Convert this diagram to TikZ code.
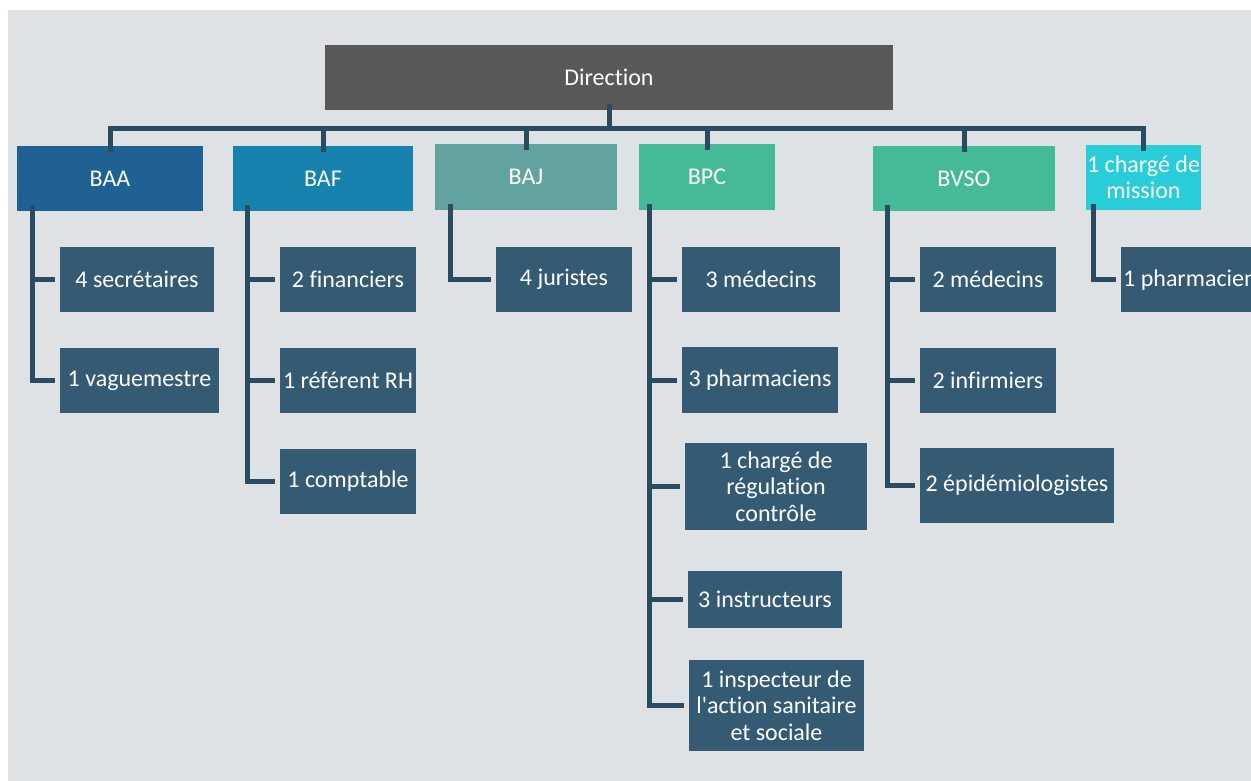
\documentclass[tikz,border=0pt]{standalone}
\usepackage{fontspec}
\setmainfont{Carlito}[Ligatures={NoCommon,NoContextual}]
\definecolor{bg}{HTML}{DFE2E5}
\definecolor{cdir}{HTML}{595959}
\definecolor{cbaa}{HTML}{1E6192}
\definecolor{cbaf}{HTML}{1682AD}
\definecolor{cbaj}{HTML}{63A39F}
\definecolor{cbpc}{HTML}{44BA97}
\definecolor{ccm}{HTML}{29CCD9}
\definecolor{cchild}{HTML}{345A74}
\definecolor{cline}{HTML}{2A4B60}
\tikzset{
  box/.style={fill=#1, text=white, inner sep=0pt, align=center, font=\fontsize{24}{26.5}\selectfont},
  conn/.style={draw=cline, line width=5pt, line join=miter},
  childconn/.style={conn, shorten >=5pt},
}
\newcommand{\bx}[6]{% style color, name, x1, y1, x2, y2
  \node[box=#1, minimum width={#5-#3}, minimum height={#6-#4}] (#2) at ({(#3+#5)/2},{(#4+#6)/2})}
\begin{document}
\begin{tikzpicture}[x=1pt,y=-1pt]
\useasboundingbox (0,0) rectangle (1251,780);
\clip (0,0) rectangle (1251,780);
\fill[bg] (8,10) rectangle (1260,790);
% top
\bx{cdir}{dir}{325}{45}{893}{110} {Direction};
\bx{cbaa}{baa}{17}{146}{203}{211} {BAA};
\bx{cbaf}{baf}{233}{146}{413}{211} {BAF};
\bx{cbaj}{baj}{435}{144}{617}{210} {BAJ};
\bx{cbpc}{bpc}{639}{144}{775}{210} {BPC};
\bx{cbpc}{bvso}{873}{146}{1055}{211} {BVSO};
\bx{ccm}{cm}{1086}{145}{1201}{210} {1 chargé de\\mission};
% children
\bx{cchild}{sec}{60}{247}{214}{312} {4 secrétaires};
\bx{cchild}{vag}{60}{348}{219}{413} {1 vaguemestre};
\bx{cchild}{fin}{280}{247}{416}{312} {2 financiers};
\bx{cchild}{rh}{280}{348}{416}{413} {1 référent RH};
\bx{cchild}{comp}{280}{449}{416}{514} {1 comptable};
\bx{cchild}{jur}{496}{247}{632}{312} {4 juristes};
\bx{cchild}{med}{682}{247}{840}{312} {3 médecins};
\bx{cchild}{pha}{682}{347}{838}{413} {3 pharmaciens};
\bx{cchild}{reg}{685}{443}{867}{530} {1 chargé de\\régulation\\contrôle};
\bx{cchild}{ins}{688}{571}{842}{628} {3 instructeurs};
\bx{cchild}{insp}{689}{660}{864}{751} {1 inspecteur de\\l\textquotesingle action sanitaire\\et sociale};
\bx{cchild}{vmed}{920}{247}{1056}{312} {2 médecins};
\bx{cchild}{inf}{920}{348}{1056}{413} {2 infirmiers};
\bx{cchild}{epi}{920}{448}{1114}{523} {2 épidémiologistes};
\node[box=cchild, minimum width=160, minimum height=65, anchor=north west] (phm) at (1121,247) {};
\node[font=\fontsize{24}{26.5}\selectfont, text=white, anchor=west, inner sep=0pt] (phmt) at ([xshift=2pt]phm.west) {1 pharmacien};
% bus
\coordinate (bus) at (609,128);
\draw[conn] ([yshift=6pt]dir.south) -- (bus);
\foreach \n in {baa,baf,baj,bpc,bvso,cm}
  \draw[conn] (bus) -| ([yshift=-6pt]\n.north);
% child connectors
\foreach \p/\dx/\c in {baa/16/sec, baa/16/vag, baf/15/fin, baf/15/rh, baf/15/comp, baj/16/jur,
  bpc/11/med, bpc/11/pha, bpc/11/reg, bpc/11/ins, bpc/11/insp,
  bvso/15/vmed, bvso/15/inf, bvso/15/epi, cm/8/phm}
  \draw[childconn] ([xshift=\dx pt, yshift=6pt]\p.south west) |- (\c.west);
\end{tikzpicture}
\end{document}
